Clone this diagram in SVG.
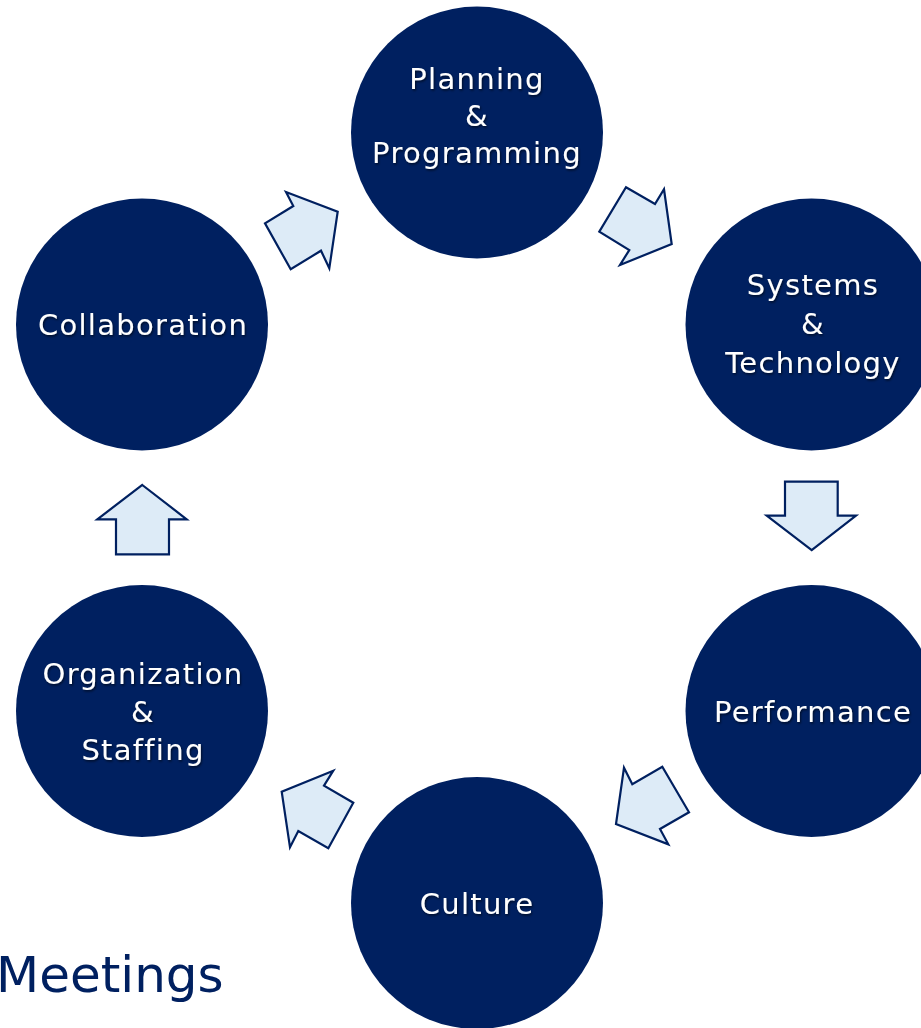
<svg xmlns="http://www.w3.org/2000/svg" width="921" height="1028" viewBox="0 0 921 1028">
<defs>
<style>
.node{fill:#002060;}
.lbl{font-family:"DejaVu Sans",Verdana,sans-serif;font-size:29px;fill:#ffffff;text-anchor:middle;letter-spacing:1.3px;filter:url(#sh);}
.arr{fill:#DDEBF7;stroke:#002060;stroke-width:2.2;stroke-linejoin:miter;}
.title{font-family:"DejaVu Sans",Verdana,sans-serif;font-size:50px;fill:#002060;}
</style>
<filter id="sh" x="-10%" y="-30%" width="120%" height="160%">
<feDropShadow dx="1" dy="1.5" stdDeviation="1" flood-color="#000000" flood-opacity="0.6"/>
</filter>
</defs>
<rect width="921" height="1028" fill="#ffffff"/>
<text class="title" x="-4" y="992">Meetings</text>
<g id="connectors">
<polygon class="arr" points="286,192 293.3,206 265,223.3 290.7,269.3 321,250.7 329.3,268.3 337.7,211.7"/>
<polygon class="arr" points="626,187.3 655,204 664,189.3 671.7,244 620,265 629.3,250 599.3,231.7"/>
<polygon class="arr" points="785,481.7 837.7,481.7 837.7,515.7 856,515.7 811.7,550 766.7,515.7 785,515.7"/>
<polygon class="arr" points="624,767.7 632.3,784.3 662.3,766.7 689,812.3 660,829 668.3,844.3 616,824"/>
<polygon class="arr" points="333.3,770.7 324,785.7 353.3,802.7 328.3,848.3 298.3,831 290,847.3 281.7,791.7"/>
<polygon class="arr" points="142.3,485 186.7,519.3 169,519.3 169,554.3 116,554.3 116,519.3 97.3,519.3"/>
</g>
<g id="planning">
<circle class="node" cx="477" cy="132.5" r="126"/>
<text class="lbl" x="477" y="89">Planning</text>
<text class="lbl" x="477" y="126">&amp;</text>
<text class="lbl" x="477" y="163">Programming</text>
</g>
<g id="systems">
<circle class="node" cx="811.5" cy="324.5" r="126"/>
<text class="lbl" x="813" y="295">Systems</text>
<text class="lbl" x="813" y="334">&amp;</text>
<text class="lbl" x="813" y="373">Technology</text>
</g>
<g id="performance">
<circle class="node" cx="811.5" cy="711" r="126"/>
<text class="lbl" x="813" y="722">Performance</text>
</g>
<g id="culture">
<circle class="node" cx="477" cy="903" r="126"/>
<text class="lbl" x="477" y="914">Culture</text>
</g>
<g id="organization">
<circle class="node" cx="142" cy="711" r="126"/>
<text class="lbl" x="143" y="684">Organization</text>
<text class="lbl" x="143" y="722">&amp;</text>
<text class="lbl" x="143" y="760">Staffing</text>
</g>
<g id="collaboration">
<circle class="node" cx="142" cy="324.5" r="126"/>
<text class="lbl" x="143" y="335">Collaboration</text>
</g>
</svg>
